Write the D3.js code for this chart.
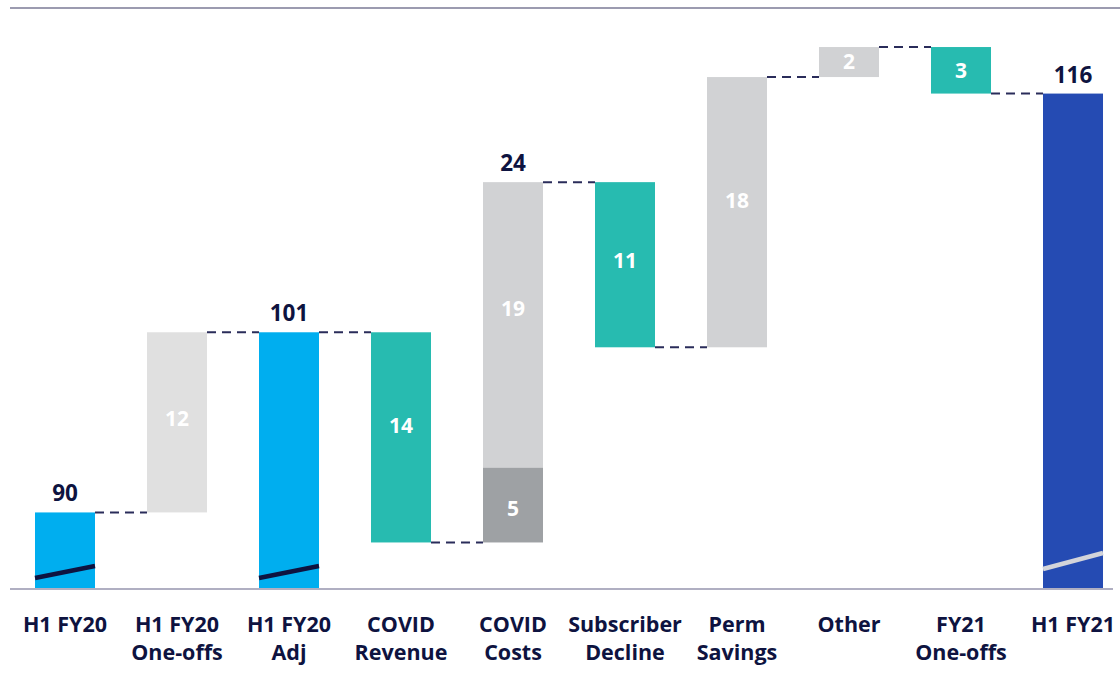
<!DOCTYPE html>
<html>
<head>
<meta charset="utf-8">
<script src="https://cdn.jsdelivr.net/npm/d3@7"></script>
<style>
  html, body { margin: 0; padding: 0; background: #ffffff; }
  svg { display: block; }
  text { font-family: "Open Sans", "Lato", sans-serif; font-weight: 700; }
</style>
</head>
<body>
<svg id="chart" width="1120" height="694"></svg>
<script>
// ---- data ----
const categories = [
  "H1 FY20", "H1 FY20\nOne-offs", "H1 FY20\nAdj", "COVID\nRevenue", "COVID\nCosts",
  "Subscriber\nDecline", "Perm\nSavings", "Other", "FY21\nOne-offs", "H1 FY21"
];
// "start" = opening bar, "step" = change, "total" = running total bar
const kinds  = ["start", "step", "total", "step", "step", "step", "step", "step", "step", "total"];
const deltas = [89.1, 12.0, null, -14.0, 24.0, -11.0, 18.0, 2.0, -3.1, null];
const barLabels = ["90", "12", "101", "14", "24", "11", "18", "2", "3", "116"];
// COVID Costs split into two stacked parts (bottom first)
const covidCostParts  = [5.0, 19.0];
const covidCostLabels = ["5", "19"];
const yDomain = [84, 122.7];

// ---- styles ----
const barColors = ["#00AEEF", "#E0E0E0", "#00AEEF", "#27BBB0", null, "#27BBB0", "#D1D2D4", "#D1D2D4", "#27BBB0", "#254BB3"];
const partColors = ["#9EA1A4", "#D1D2D4"];
const navy = "#0E1340";

const svg = d3.select("#chart");
const x = d3.scaleBand().domain(d3.range(categories.length))
  .range([9, 1129]).paddingInner(0.4643).paddingOuter(0.2321);
const y = d3.scaleLinear().domain(yDomain).range([589, 8]);
const bw = x.bandwidth();

// compute bars
let running = 0;
const bars = categories.map((c, i) => {
  let lo, hi;
  if (kinds[i] === "start") { running = deltas[i]; lo = yDomain[0]; hi = running; }
  else if (kinds[i] === "total") { lo = yDomain[0]; hi = running; }
  else { const prev = running; running += deltas[i]; lo = Math.min(prev, running); hi = Math.max(prev, running); }
  return { i, lo, hi, level: running, kind: kinds[i] };
});

// frame line at top
svg.append("line").attr("x1", 10).attr("x2", 1120).attr("y1", 8).attr("y2", 8)
  .attr("stroke", "#9C9BB0").attr("stroke-width", 2);

const g = svg.append("g");
// connectors
for (let i = 0; i < bars.length - 1; i++) {
  g.append("line")
    .attr("x1", x(i) + bw).attr("x2", x(i + 1))
    .attr("y1", y(bars[i].level)).attr("y2", y(bars[i].level))
    .attr("stroke", "#2A2C5A").attr("stroke-width", 2).attr("stroke-dasharray", "9,6");
}

// bars
bars.forEach(b => {
  if (b.i === 4) {
    let base = b.lo;
    covidCostParts.forEach((v, k) => {
      g.append("rect").attr("x", x(b.i)).attr("width", bw)
        .attr("y", y(base + v)).attr("height", y(base) - y(base + v))
        .attr("fill", partColors[k]);
      g.append("text").attr("x", x(b.i) + bw / 2).attr("y", y(base + v / 2) - (k === 1 ? 16 : -4))
        .attr("dy", "0.35em").attr("text-anchor", "middle")
        .attr("fill", "#ffffff").attr("font-size", 21).text(covidCostLabels[k]);
      base += v;
    });
  } else {
    g.append("rect").attr("x", x(b.i)).attr("width", bw)
      .attr("y", y(b.hi)).attr("height", y(b.lo) - y(b.hi))
      .attr("fill", barColors[b.i]);
  }
  if (b.kind === "step" && b.i !== 4) {
    const h = y(b.lo) - y(b.hi);
    const lift = h > 200 ? 12 : (h > 150 ? 4 : 0);
    g.append("text").attr("x", x(b.i) + bw / 2).attr("y", y((b.lo + b.hi) / 2) - lift)
      .attr("dy", "0.35em").attr("text-anchor", "middle")
      .attr("fill", "#ffffff").attr("font-size", 21).text(barLabels[b.i]);
  } else {
    g.append("text").attr("x", x(b.i) + bw / 2).attr("y", y(b.hi) - 11)
      .attr("text-anchor", "middle")
      .attr("fill", navy).attr("font-size", 22.5).text(barLabels[b.i]);
  }
});

// axis-break slashes
const slash = [[0, 11, 23, navy], [2, 11, 23, navy], [9, 20, 36, "#D3D4DA"]];
slash.forEach(([i, a, c, col]) => {
  g.append("line").attr("x1", x(i)).attr("x2", x(i) + bw)
    .attr("y1", y.range()[0] - a).attr("y2", y.range()[0] - c)
    .attr("stroke", col).attr("stroke-width", 4.5);
});

// baseline
svg.append("line").attr("x1", 10).attr("x2", 1113).attr("y1", 589).attr("y2", 589)
  .attr("stroke", "#B0AFC2").attr("stroke-width", 2);

// category labels
categories.forEach((c, i) => {
  const t = svg.append("text").attr("text-anchor", "middle")
    .attr("fill", navy).attr("font-size", 21.5);
  c.split("\n").forEach((line, k) => {
    t.append("tspan").attr("x", x(i) + bw / 2).attr("y", 632 + k * 28).text(line);
  });
});
</script>
</body>
</html>
